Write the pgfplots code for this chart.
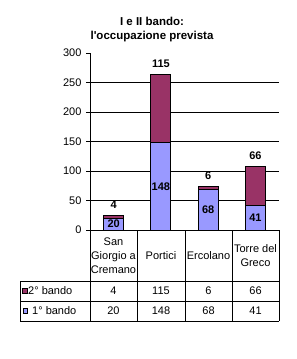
\documentclass[border=0pt]{standalone}
\usepackage{pgfplots}
\pgfplotsset{compat=1.18}
\usepackage{fontspec}
\setmainfont{Liberation Sans}
\definecolor{blu}{HTML}{9999FF}
\definecolor{bord}{HTML}{993366}
\newcommand{\fs}{\fontsize{11}{14}\selectfont}
\begin{document}
\begin{tikzpicture}
\path[use as bounding box] (0,0) rectangle (297pt,-359pt);
% title
\node[font=\fontsize{11.5}{14}\selectfont\bfseries, align=center] at (152pt,-30pt) {I e II bando:\\l\textquotesingle occupazione prevista};
\begin{axis}[
  at={(90pt,-230pt)}, anchor=south west,
  width=189pt, height=177pt, scale only axis,
  xmin=-0.5, xmax=3.5, ymin=0, ymax=300,
  axis x line=bottom, axis y line=left, axis line style={-, black},
  xtick=\empty,
  ytick={0,50,...,300},
  extra y ticks={50,100,...,250}, extra y tick labels={},
  extra y tick style={grid=major, major tick length=0pt, grid style={black, line width=0.8pt}},
  tick align=outside, major tick length=4pt,
  tick style={black, line width=0.8pt},
  yticklabel style={font=\fs, xshift=-1pt},
  /pgf/number format/assume math mode=true,
  ybar stacked, bar width=20pt,
  clip=false,
]
\addplot[fill=blu, draw=black, line width=0.8pt] coordinates {(0,20) (1,148) (2,68) (3,41)};
\addplot[fill=bord, draw=black, line width=0.8pt] coordinates {(0,4) (1,115) (2,6) (3,66)};
\end{axis}
\begin{axis}[
  at={(90pt,-230pt)}, anchor=south west,
  width=189pt, height=177pt, scale only axis,
  xmin=-0.5, xmax=3.5, ymin=0, ymax=300,
  hide axis, clip=false,
]
% labels of 1st call, centred in the lower segment
\addplot[only marks, mark=none, nodes near coords, point meta=explicit symbolic,
  every node near coord/.style={anchor=center, inner sep=0pt, font=\fs\bfseries}]
  coordinates {(0,10)[20] (1,74)[148] (2,34)[68] (3,20.5)[41]};
% labels of 2nd call, above the stack
\addplot[only marks, mark=none, nodes near coords, point meta=explicit symbolic,
  every node near coord/.style={anchor=base, inner sep=0pt, yshift=7pt, font=\fs\bfseries}]
  coordinates {(0,24)[4] (1,263)[115] (2,74)[6] (3,107)[66]};
\end{axis}
% data table
\begin{scope}[line width=0.8pt]
\foreach \x in {90,137,185,232,279} \draw (\x pt,-230pt) -- (\x pt,-321pt);
\draw (20pt,-281pt) -- (20pt,-321pt);
\foreach \y in {281,301,321} \draw (20pt,-\y pt) -- (279pt,-\y pt);
\end{scope}
\node[font=\fs, align=center] at (113.5pt,-255.5pt) {San\\Giorgio a\\Cremano};
\node[font=\fs, align=center] at (161pt,-255.5pt) {Portici};
\node[font=\fs, align=center] at (208.5pt,-255.5pt) {Ercolano};
\node[font=\fs, align=center] at (255.5pt,-255.5pt) {Torre del\\Greco};
% legend keys
\draw[fill=bord, line width=0.6pt] (22.5pt,-288pt) rectangle (27.5pt,-293pt);
\draw[fill=blu, line width=0.6pt] (23pt,-308.5pt) rectangle (27.5pt,-313pt);
\node[font=\fs, anchor=west, inner sep=0pt] at (28pt,-291pt) {2° bando};
\node[font=\fs, anchor=west, inner sep=0pt] at (32pt,-311pt) {1° bando};
% table values
\foreach \x/\a/\b in {113.5/4/20, 161/115/148, 208.5/6/68, 255.5/66/41} {
  \node[font=\fs] at (\x pt,-291pt) {\a};
  \node[font=\fs] at (\x pt,-311pt) {\b};
}
\end{tikzpicture}
\end{document}
